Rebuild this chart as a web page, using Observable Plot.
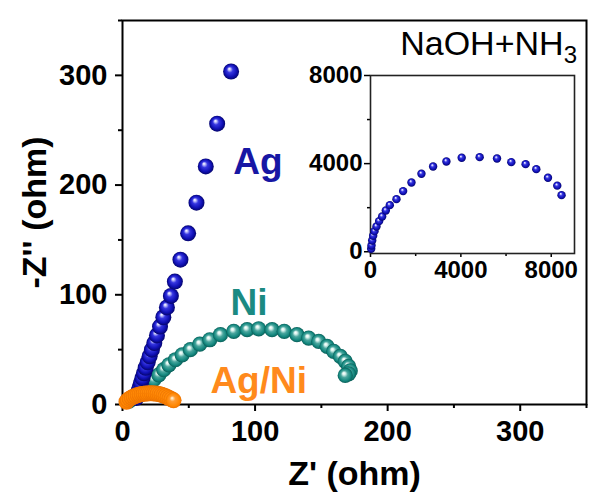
<!DOCTYPE html>
<html><head><meta charset="utf-8">
<script src="https://cdn.jsdelivr.net/npm/d3@7"></script>
<script src="https://cdn.jsdelivr.net/npm/@observablehq/plot@0.6"></script>
<style>
html,body{margin:0;padding:0;background:#fff;}
#wrap{position:relative;width:598px;height:501px;overflow:hidden;background:#fff;}
#main{position:absolute;left:0;top:0;width:598px;height:501px;}
#inset{position:absolute;left:300px;top:60px;width:290px;height:230px;}
#wrap svg{max-width:none;overflow:visible;}
</style></head><body>
<svg width="0" height="0" style="position:absolute">
<defs>
<radialGradient id="gAg" cx="50%" cy="50%" r="50%" fx="38%" fy="32%">
<stop offset="0" stop-color="#ffffff"/>
<stop offset="0.12" stop-color="#d0d0ff"/>
<stop offset="0.38" stop-color="#3535e0"/>
<stop offset="0.75" stop-color="#1010b4"/>
<stop offset="1" stop-color="#05056c"/>
</radialGradient>
<radialGradient id="gNi" cx="50%" cy="50%" r="50%" fx="40%" fy="35%">
<stop offset="0" stop-color="#ffffff"/>
<stop offset="0.18" stop-color="#daf3ee"/>
<stop offset="0.45" stop-color="#4aa69e"/>
<stop offset="0.78" stop-color="#14887f"/>
<stop offset="1" stop-color="#0a5e58"/>
</radialGradient>
<radialGradient id="gOr" cx="50%" cy="50%" r="50%" fx="40%" fy="35%">
<stop offset="0" stop-color="#ffffff"/>
<stop offset="0.1" stop-color="#ffe2b8"/>
<stop offset="0.35" stop-color="#ff9a30"/>
<stop offset="0.8" stop-color="#ff8600"/>
<stop offset="1" stop-color="#ea7000"/>
</radialGradient>
</defs></svg>
<div id="wrap"><div id="main"></div><div id="inset"></div></div>
<script>
// Main plot series (Z', -Z'')
const agX = [10.5, 11.2, 12, 12.9, 13.9, 15, 16.2, 17.5, 19, 20.5, 22.2, 24, 26, 28.3, 30.8, 33.5, 36.5, 39.5, 43.7, 49.5, 55.8, 62.8, 71.4, 81.9];
const agY = [6, 9, 12, 15.5, 19.5, 24, 28.5, 33.5, 38.5, 44, 50, 56, 63, 71, 79.5, 88.5, 99, 112, 132, 156, 184, 217, 256, 303.5];
const niX = [5, 8.5, 12.3, 16.1, 19.8, 23.6, 27.4, 31.1, 35, 40, 45, 51.2, 58.3, 65.8, 73.9, 83.9, 94, 102.7, 112.8, 122, 131.6, 140.4, 148, 154.3, 159.3, 164.3, 168, 170.6, 171.8, 170.5, 168];
const niY = [3, 5.8, 9.4, 13.4, 18, 22.6, 27, 31.7, 36.2, 40.8, 45.3, 50, 55, 59, 63.6, 66.7, 68.2, 69, 68.2, 66.7, 63.6, 60.5, 57.5, 53, 48.4, 43.8, 39.3, 34.7, 30.7, 28, 26.5];
const agniX = [3, 4, 5.5, 7, 8.5, 10, 11.5, 13, 14.5, 16, 17.5, 19, 20.5, 22, 23.5, 25, 26.5, 28, 29.5, 31, 32.5, 34, 35.5, 37, 38.5];
const agniY = [2.5, 4, 5.3, 6.4, 7.3, 8, 8.6, 9.1, 9.5, 9.8, 10, 10.1, 10.2, 10.2, 10.1, 10, 9.7, 9.3, 8.8, 8.2, 7.5, 6.6, 5.7, 4.8, 3.8];
// Inset series (Ag, NaOH+NH3)
const insetX = [30, 44, 75, 118, 177, 265, 383, 516, 678, 855, 1149, 1444, 1813, 2255, 2771, 3360, 4037, 4832, 5600, 6233, 6866, 7339, 7856, 8267, 8457];
const insetY = [136, 286, 513, 726, 935, 1148, 1390, 1602, 1875, 2115, 2388, 2752, 3145, 3540, 3872, 4099, 4267, 4294, 4235, 4067, 3977, 3750, 3359, 3000, 2569];
// Ticks
const mainMajorTicks = [0, 100, 200, 300];
const mainMinorTicks = [50, 150, 250, 350];
const insetMajorTicks = [0, 4000, 8000];
const insetMinorTicks = [2000, 6000];
// Labels
const seriesLabels = [
  {name: "Ag", x: 83.6, y: 221, color: "#1717a4"},
  {name: "Ni", x: 81.4, y: 92, color: "#1b8a82"},
  {name: "Ag/Ni", x: 66.3, y: 21, color: "#ff8a1c"}
];
const xTitle = "Z' (ohm)";
const yTitle = "-Z'' (ohm)";
const insetTitle = "NaOH+NH";
const insetTitleSub = "3";

const toPts = (xs, ys) => xs.map((x, i) => ({x, y: ys[i]}));
const agData = toPts(agX, agY);
const niData = toPts(niX, niY);
const agniData = toPts(agniX, agniY);
const insetData = toPts(insetX, insetY);

const font = "'Liberation Sans', Arial, Helvetica, sans-serif";

const main = Plot.plot({
  width: 598, height: 501,
  marginLeft: 122, marginRight: 12, marginTop: 20, marginBottom: 97,
  style: {fontFamily: font, background: "transparent", color: "black"},
  x: {domain: [0, 350]},
  y: {domain: [0, 350]},
  marks: [
    Plot.axisX({ticks: mainMajorTicks, tickSize: 7, tickPadding: 9, fontSize: 29, fontWeight: "bold", strokeWidth: 2, tickFormat: "d", label: null}),
    Plot.axisX({ticks: mainMinorTicks, tickSize: 4, strokeWidth: 2, fill: "none", label: null}),
    Plot.axisY({ticks: mainMajorTicks, tickSize: 7, tickPadding: 8, fontSize: 29, fontWeight: "bold", strokeWidth: 2, tickFormat: "d", label: null}),
    Plot.axisY({ticks: mainMinorTicks, tickSize: 4, strokeWidth: 2, fill: "none", label: null}),
    Plot.frame({stroke: "black", strokeWidth: 2}),
    Plot.dot(niData, {x: "x", y: "y", r: 7.6, fill: "url(#gNi)", stroke: "none"}),
    Plot.dot(agData, {x: "x", y: "y", r: 8, fill: "url(#gAg)", stroke: "none"}),
    Plot.dot(agniData, {x: "x", y: "y", r: 8, fill: "url(#gOr)", stroke: "none"}),
    ...seriesLabels.map(l => Plot.text([l], {x: "x", y: "y", text: "name", fill: l.color, fontSize: 37, fontWeight: "bold", textAnchor: "start", lineAnchor: "middle"})),
    Plot.text([yTitle], {frameAnchor: "left", rotate: -90, dx: -87, fontSize: 34, fontWeight: "bold", textAnchor: "middle", lineAnchor: "middle", fill: "black"}),
    Plot.text([xTitle], {frameAnchor: "bottom", dy: 70, fontSize: 34, fontWeight: "bold", textAnchor: "middle", lineAnchor: "middle", fill: "black"})
  ]
});
document.getElementById("main").appendChild(main);

// inset title with subscript
const t = d3.select(main).append("text")
  .attr("x", 577).attr("y", 55)
  .attr("text-anchor", "end")
  .attr("font-family", font).attr("font-size", 34).attr("fill", "black");
t.append("tspan").text(insetTitle);
t.append("tspan").attr("font-size", 24).attr("dy", 8).text(insetTitleSub);

const inset = Plot.plot({
  width: 290, height: 230,
  marginLeft: 70, marginRight: 16, marginTop: 15, marginBottom: 37,
  style: {fontFamily: font, background: "transparent", color: "black"},
  x: {domain: [0, 9030]},
  y: {domain: [-80, 8000]},
  marks: [
    Plot.axisX({ticks: insetMajorTicks, tickSize: 4, tickPadding: 3, fontSize: 24, fontWeight: "bold", strokeWidth: 1.5, tickFormat: "d", label: null}),
    Plot.axisX({ticks: insetMinorTicks, tickSize: 3, strokeWidth: 1.5, fill: "none", label: null}),
    Plot.axisY({ticks: insetMajorTicks, tickSize: 6, tickPadding: 2, fontSize: 24, fontWeight: "bold", strokeWidth: 1.5, tickFormat: "d", label: null}),
    Plot.axisY({ticks: insetMinorTicks, tickSize: 3, strokeWidth: 1.5, fill: "none", label: null}),
    Plot.frame({stroke: "#222", strokeWidth: 1.6}),
    Plot.dot(insetData, {x: "x", y: "y", r: 4.2, fill: "url(#gAg)", stroke: "none"})
  ]
});
document.getElementById("inset").appendChild(inset);
</script>
</body></html>
